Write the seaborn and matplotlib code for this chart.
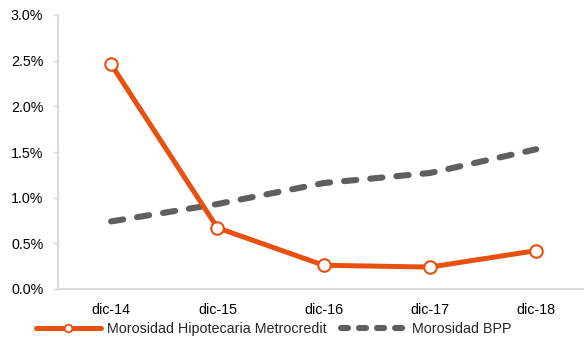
import matplotlib
matplotlib.use("Agg")
import matplotlib.pyplot as plt
from matplotlib.ticker import FuncFormatter, MultipleLocator
import seaborn as sns
import pandas as pd

periods = ["dic-14", "dic-15", "dic-16", "dic-17", "dic-18"]
metrocredit = [2.46, 0.67, 0.26, 0.24, 0.42]
bpp = [0.74, 0.93, 1.16, 1.27, 1.53]
series_names = ["Morosidad Hipotecaria Metrocredit", "Morosidad BPP"]

df = pd.concat([
    pd.DataFrame({"periodo": periods, "valor": metrocredit, "serie": series_names[0]}),
    pd.DataFrame({"periodo": periods, "valor": bpp, "serie": series_names[1]}),
])

sns.set_theme(style="white")
plt.rcParams["font.family"] = ["Liberation Sans", "DejaVu Sans"]

orange = "#E8500F"
gray = "#5F5F5F"

fig = plt.figure(figsize=(5.84, 3.43), dpi=100)
ax = fig.add_axes([58 / 584, 54 / 343, (584 - 58) / 584, (289 - 15) / 343])

sns.lineplot(data=df[df.serie == series_names[1]], x="periodo", y="valor",
             ax=ax, color=gray, linewidth=4.4, label=series_names[1], sort=False)
sns.lineplot(data=df[df.serie == series_names[0]], x="periodo", y="valor",
             ax=ax, color=orange, linewidth=3.6, marker="o", markersize=9,
             markerfacecolor="white", markeredgecolor=orange, markeredgewidth=1.5,
             label=series_names[0], sort=False)

bpp_line = ax.lines[0]
bpp_line.set_dashes([2.0, 2.3])
bpp_line.set_dash_capstyle("round")
ax.lines[1].set_zorder(3)

ax.set_xlim(-0.5, 4.45)
ax.set_ylim(0, 3.0)
ax.yaxis.set_major_locator(MultipleLocator(0.5))
ax.yaxis.set_major_formatter(FuncFormatter(lambda v, _: f"{v:.1f}%"))
ax.set_xlabel("")
ax.set_ylabel("")

for side in ["top", "right"]:
    ax.spines[side].set_visible(False)
for side in ["left", "bottom"]:
    ax.spines[side].set_color("#D9D9D9")
    ax.spines[side].set_linewidth(1.5)

ax.tick_params(axis="y", length=3.6, color="#D9D9D9", width=1, labelsize=10.3,
               labelcolor="black", pad=7, left=True)
ax.tick_params(axis="x", length=0, labelsize=10.3, labelcolor="black", pad=10)

handles, labels = ax.get_legend_handles_labels()
order = [labels.index(series_names[0]), labels.index(series_names[1])]
leg = ax.legend([handles[i] for i in order], [labels[i] for i in order],
                loc="center", bbox_to_anchor=(0.41, -0.145), ncol=2,
                frameon=False, fontsize=10.3, handlelength=4.5, handletextpad=0.45,
                columnspacing=1.0, borderaxespad=0)
for h in leg.legend_handles:
    if h.get_color() == gray:
        h.set_dashes([1.15, 1.8])
        h.set_dash_capstyle("round")
    else:
        h.set_markersize(5.5)
        h.set_markeredgewidth(1.3)

fig.savefig("out.png", dpi=100)
